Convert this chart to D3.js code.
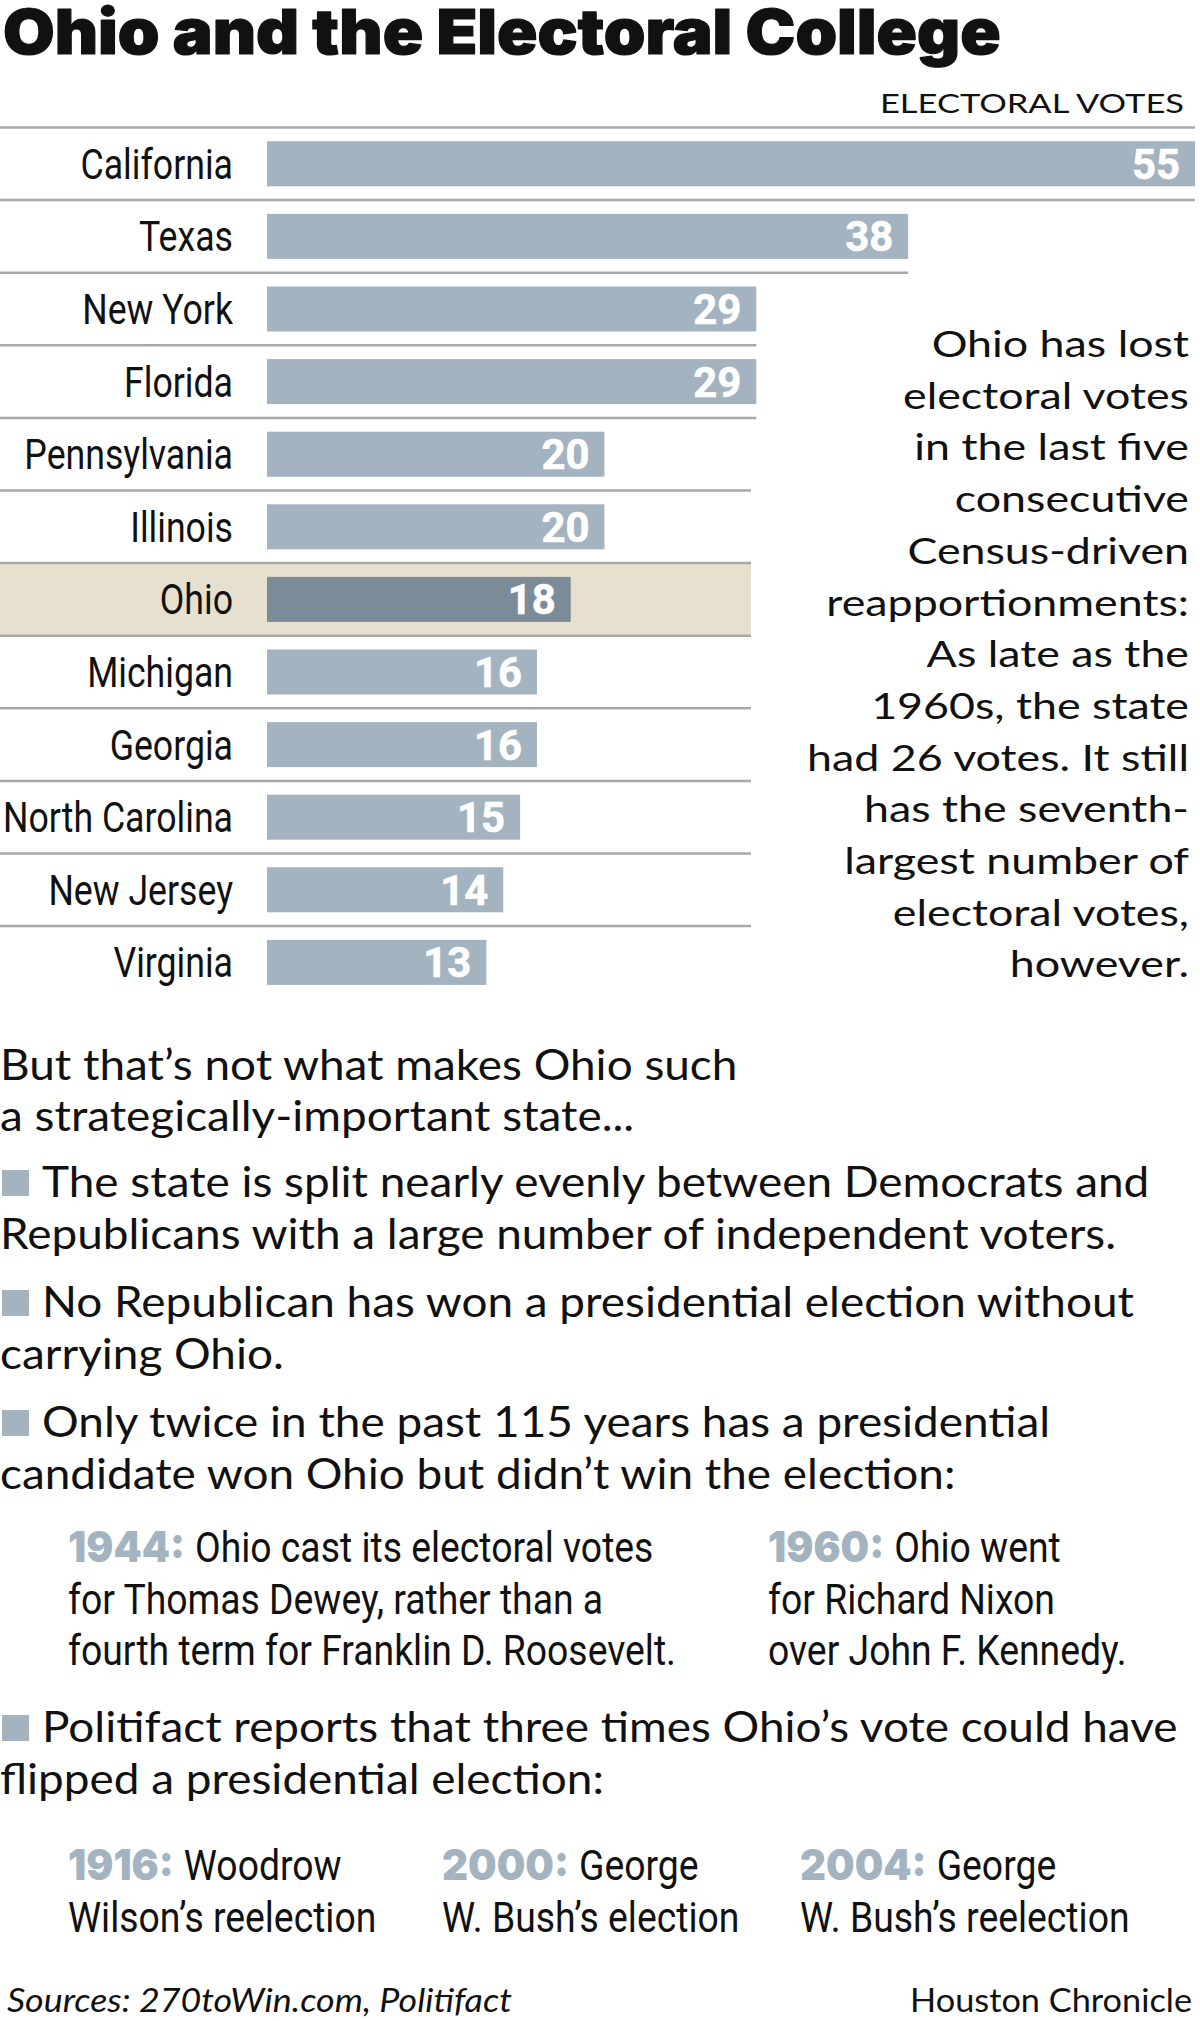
<!DOCTYPE html>
<html>
<head>
<meta charset="utf-8">
<script src="https://cdn.jsdelivr.net/npm/d3@7"></script>
<style>
  html, body { margin: 0; padding: 0; background: #fff; }
  svg { display: block; }
</style>
</head>
<body>
<svg id="chart" width="1200" height="2021"></svg>
<script>
// ---------------- DATA ----------------
const titleText = "Ohio and the Electoral College";
const axisTitle = "ELECTORAL VOTES";
const states = ["California","Texas","New York","Florida","Pennsylvania","Illinois","Ohio","Michigan","Georgia","North Carolina","New Jersey","Virginia"];
const votes = [55, 38, 29, 29, 20, 20, 18, 16, 16, 15, 14, 13];
const highlightState = "Ohio";
const voteDomain = [0, 55];

const noteLines = [
  "Ohio has lost", "electoral votes", "in the last five", "consecutive",
  "Census-driven", "reapportionments:", "As late as the", "1960s, the state",
  "had 26 votes. It still", "has the seventh-", "largest number of",
  "electoral votes,", "however."
];
const introLines = ["But that\u2019s not what makes Ohio such", "a strategically-important state..."];
const bulletLines = [
  ["The state is split nearly evenly between Democrats and", "Republicans with a large number of independent voters."],
  ["No Republican has won a presidential election without", "carrying Ohio."],
  ["Only twice in the past 115 years has a presidential", "candidate won Ohio but didn\u2019t win the election:"],
  ["Politifact reports that three times Ohio\u2019s vote could have", "flipped a presidential election:"]
];
const lostYears = ["1944:", "1960:"];
const lostNotes = [
  ["Ohio cast its electoral votes", "for Thomas Dewey, rather than a", "fourth term for Franklin D. Roosevelt."],
  ["Ohio went", "for Richard Nixon", "over John F. Kennedy."]
];
const flipYears = ["1916:", "2000:", "2004:"];
const flipNotes = [
  ["Woodrow", "Wilson\u2019s reelection"],
  ["George", "W. Bush\u2019s election"],
  ["George", "W. Bush\u2019s reelection"]
];
const sourceText = "Sources: 270toWin.com, Politifact";
const creditText = "Houston Chronicle";

// ---------------- STYLE ----------------
const C = {
  bar: "#a3b4c0", barHi: "#7b8b97", hiBg: "#e6e0cf", rule: "#a9a9a9", ink: "#111"
};
const GEO = "Lato, 'Open Sans', sans-serif";
const HEAVY = "Inter, Lato, sans-serif";
const COND = "Roboto, 'Liberation Sans', sans-serif";

const svg = d3.select("#chart");

function makeStyle(o) {
  const size = o.cap / 0.72;
  const t = svg.append("text")
    .attr("font-family", o.family).attr("font-weight", o.weight || 400)
    .attr("font-style", o.italic ? "italic" : "normal")
    .attr("font-size", size).text(o.ref);
  const w = t.node().getComputedTextLength();
  t.remove();
  return { family: o.family, weight: o.weight || 400, italic: !!o.italic, size,
           sx: o.width / w, fill: o.fill || C.ink, stroke: o.stroke || 0 };
}
function put(g, st, str, x, y, anchor) {
  const t = g.append("text")
    .attr("transform", `translate(${x},${y}) scale(${st.sx},1)`)
    .attr("font-family", st.family).attr("font-weight", st.weight)
    .attr("font-style", st.italic ? "italic" : "normal")
    .attr("font-size", st.size).attr("fill", st.fill)
    .attr("text-anchor", anchor || "start").text(str);
  if (st.stroke) t.attr("stroke", st.fill).attr("stroke-width", st.stroke).attr("stroke-linejoin", "round");
  return t;
}
function widthOf(node, st) { return node.getComputedTextLength() * st.sx; }

function draw() {
  const S = {
    title: makeStyle({ family: HEAVY, weight: 900, cap: 45, ref: titleText, width: 998, stroke: 1.2 }),
    axis: makeStyle({ family: GEO, cap: 20, ref: axisTitle, width: 304 }),
    state: makeStyle({ family: COND, cap: 30, ref: "North Carolina", width: 230 }),
    value: makeStyle({ family: COND, weight: 700, cap: 30, ref: "55", width: 48, fill: "#fff", stroke: 0.6 }),
    note: makeStyle({ family: GEO, cap: 26, ref: "had 26 votes. It still", width: 382 }),
    body: makeStyle({ family: GEO, cap: 30, ref: bulletLines[0][1], width: 1116 }),
    year: makeStyle({ family: HEAVY, weight: 900, cap: 31, ref: "1944:", width: 117, fill: C.bar }),
    cond: makeStyle({ family: COND, cap: 31, ref: lostNotes[0][2], width: 608 }),
    src: makeStyle({ family: GEO, italic: true, cap: 24, ref: sourceText, width: 505 }),
    credit: makeStyle({ family: GEO, cap: 24, ref: creditText, width: 282 })
  };

  // Title
  put(svg, S.title, titleText, 3, 54);
  put(svg, S.axis, axisTitle, 1184, 113, "end");

  // Scales
  const top = 127.5, pitch = 72.6;
  const x = d3.scaleLinear().domain(voteDomain).range([267, 1195]);
  const y = d3.scaleBand().domain(states).range([top, top + pitch * states.length])
    .paddingInner(0.38).paddingOuter(0.19);
  const rowTop = s => top + states.indexOf(s) * pitch;
  const panelRight = 751;

  const chart = svg.append("g");

  chart.append("rect")
    .attr("x", 0).attr("y", rowTop(highlightState))
    .attr("width", panelRight).attr("height", pitch)
    .attr("fill", C.hiBg);

  const ruleIdx = d3.range(states.length);
  chart.selectAll("line.rule").data(ruleIdx).join("line")
    .attr("class", "rule")
    .attr("x1", 0)
    .attr("x2", i => Math.max(panelRight, x(votes[Math.max(i - 1, 0)])))
    .attr("y1", i => top + i * pitch).attr("y2", i => top + i * pitch)
    .attr("stroke", C.rule).attr("stroke-width", 2.5);

  const rows = states.map((s, i) => ({ s, v: votes[i] }));

  chart.selectAll("rect.bar").data(rows).join("rect")
    .attr("class", "bar")
    .attr("x", x(0)).attr("y", d => y(d.s))
    .attr("width", d => x(d.v) - x(0)).attr("height", y.bandwidth())
    .attr("fill", d => d.s === highlightState ? C.barHi : C.bar);

  rows.forEach(d => {
    const cy = y(d.s) + y.bandwidth() / 2;
    put(chart, S.state, d.s, 233, cy + 15, "end");
    put(chart, S.value, String(d.v), x(d.v) - 15, cy + 15, "end");
  });

  noteLines.forEach((l, i) => put(svg, S.note, l, 1189, 357 + i * 51.7, "end"));

  const intro = [1080, 1131];
  introLines.forEach((l, i) => put(svg, S.body, l, 0, intro[i]));

  const bulletY = [1197, 1317, 1437, 1742];
  bulletLines.forEach((lines, b) => {
    svg.append("rect").attr("x", 2).attr("y", bulletY[b] - 27)
      .attr("width", 27).attr("height", 26).attr("fill", C.bar);
    lines.forEach((l, i) => put(svg, S.body, l, i === 0 ? 42 : 0, bulletY[b] + i * 52));
  });

  function yearBlock(year, lines, x0, y0, lh) {
    const t = put(svg, S.year, year, x0, y0);
    const w = widthOf(t.node(), S.year);
    lines.forEach((l, i) => put(svg, S.cond, l, i === 0 ? x0 + w + 10 : x0, y0 + i * lh));
  }
  const lostX = [68, 768];
  lostYears.forEach((yr, i) => yearBlock(yr, lostNotes[i], lostX[i], 1562, 51.5));
  const flipX = [68, 442, 800];
  flipYears.forEach((yr, i) => yearBlock(yr, flipNotes[i], flipX[i], 1880, 52));

  put(svg, S.src, sourceText, 7, 2012);
  put(svg, S.credit, creditText, 1192, 2012, "end");
}

(document.fonts && document.fonts.ready ? document.fonts.ready : Promise.resolve()).then(draw);
</script>
</body>
</html>
